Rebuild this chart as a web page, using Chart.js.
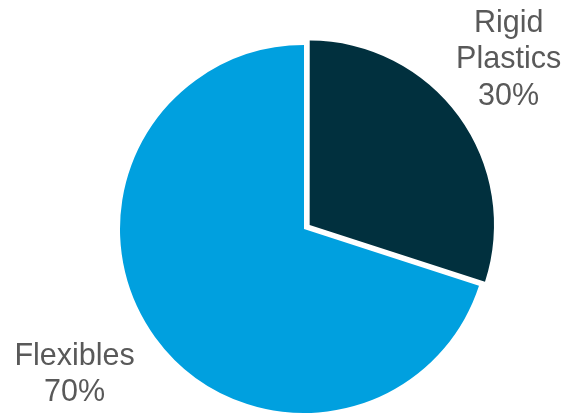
<!DOCTYPE html>
<html>
<head>
<meta charset="utf-8">
<script src="https://cdn.jsdelivr.net/npm/chart.js@4.4.1/dist/chart.umd.min.js"></script>
<style>
  html, body { margin: 0; padding: 0; background: #ffffff; }
  #wrap { width: 569px; height: 415px; position: relative; }
</style>
</head>
<body>
<div id="wrap"><canvas id="pie"></canvas></div>
<script>
// Packaging mix by type
const categories = ['Rigid Plastics', 'Flexibles'];
const shares = [30, 70];
const labelLines = [['Rigid', 'Plastics', '30%'], ['Flexibles', '70%']];

const sliceColors = ['#01303E', '#00A0DF'];

// Outside labels: angle (deg, clockwise from 12 o'clock) and distance as a multiple of the radius
const labelPlacement = [
  { angle: 51.8, dist: 1.376 },
  { angle: 236.1, dist: 1.502 }
];

const outsideLabels = {
  id: 'outsideLabels',
  afterDraw(chart) {
    const ctx = chart.ctx;
    const meta = chart.getDatasetMeta(0);
    ctx.save();
    ctx.font = '30.5px "Liberation Sans", Arial, sans-serif';
    ctx.fillStyle = '#595959';
    ctx.textAlign = 'center';
    ctx.textBaseline = 'alphabetic';
    const lineH = 36.5;
    meta.data.forEach((arc, i) => {
      const p = arc.getProps(['x', 'y', 'startAngle', 'endAngle', 'outerRadius'], true);
      const mid = (p.startAngle + p.endAngle) / 2;
      // ArcElement shifts an exploded slice by a quarter of its offset
      const off = (arc.options.offset || 0) / 4;
      const cx = p.x + Math.cos(mid) * off;
      const cy = p.y + Math.sin(mid) * off;
      const a = labelPlacement[i].angle * Math.PI / 180 - Math.PI / 2;
      const d = labelPlacement[i].dist * p.outerRadius;
      const ax = cx + Math.cos(a) * d;
      const ay = cy + Math.sin(a) * d;
      const lines = labelLines[i];
      lines.forEach((t, j) => {
        ctx.fillText(t, ax, ay + (j - (lines.length - 1) / 2) * lineH);
      });
    });
    ctx.restore();
  }
};

new Chart(document.getElementById('pie'), {
  type: 'pie',
  data: {
    labels: categories,
    datasets: [{
      data: shares,
      backgroundColor: sliceColors,
      borderWidth: 0,
      offset: [28, 0]
    }]
  },
  options: {
    responsive: true,
    maintainAspectRatio: false,
    animation: false,
    radius: 184,
    layout: { padding: { left: 39, right: 0, top: 43, bottom: 0 } },
    plugins: {
      legend: { display: false },
      tooltip: { enabled: false }
    }
  },
  plugins: [outsideLabels]
});
</script>
</body>
</html>
